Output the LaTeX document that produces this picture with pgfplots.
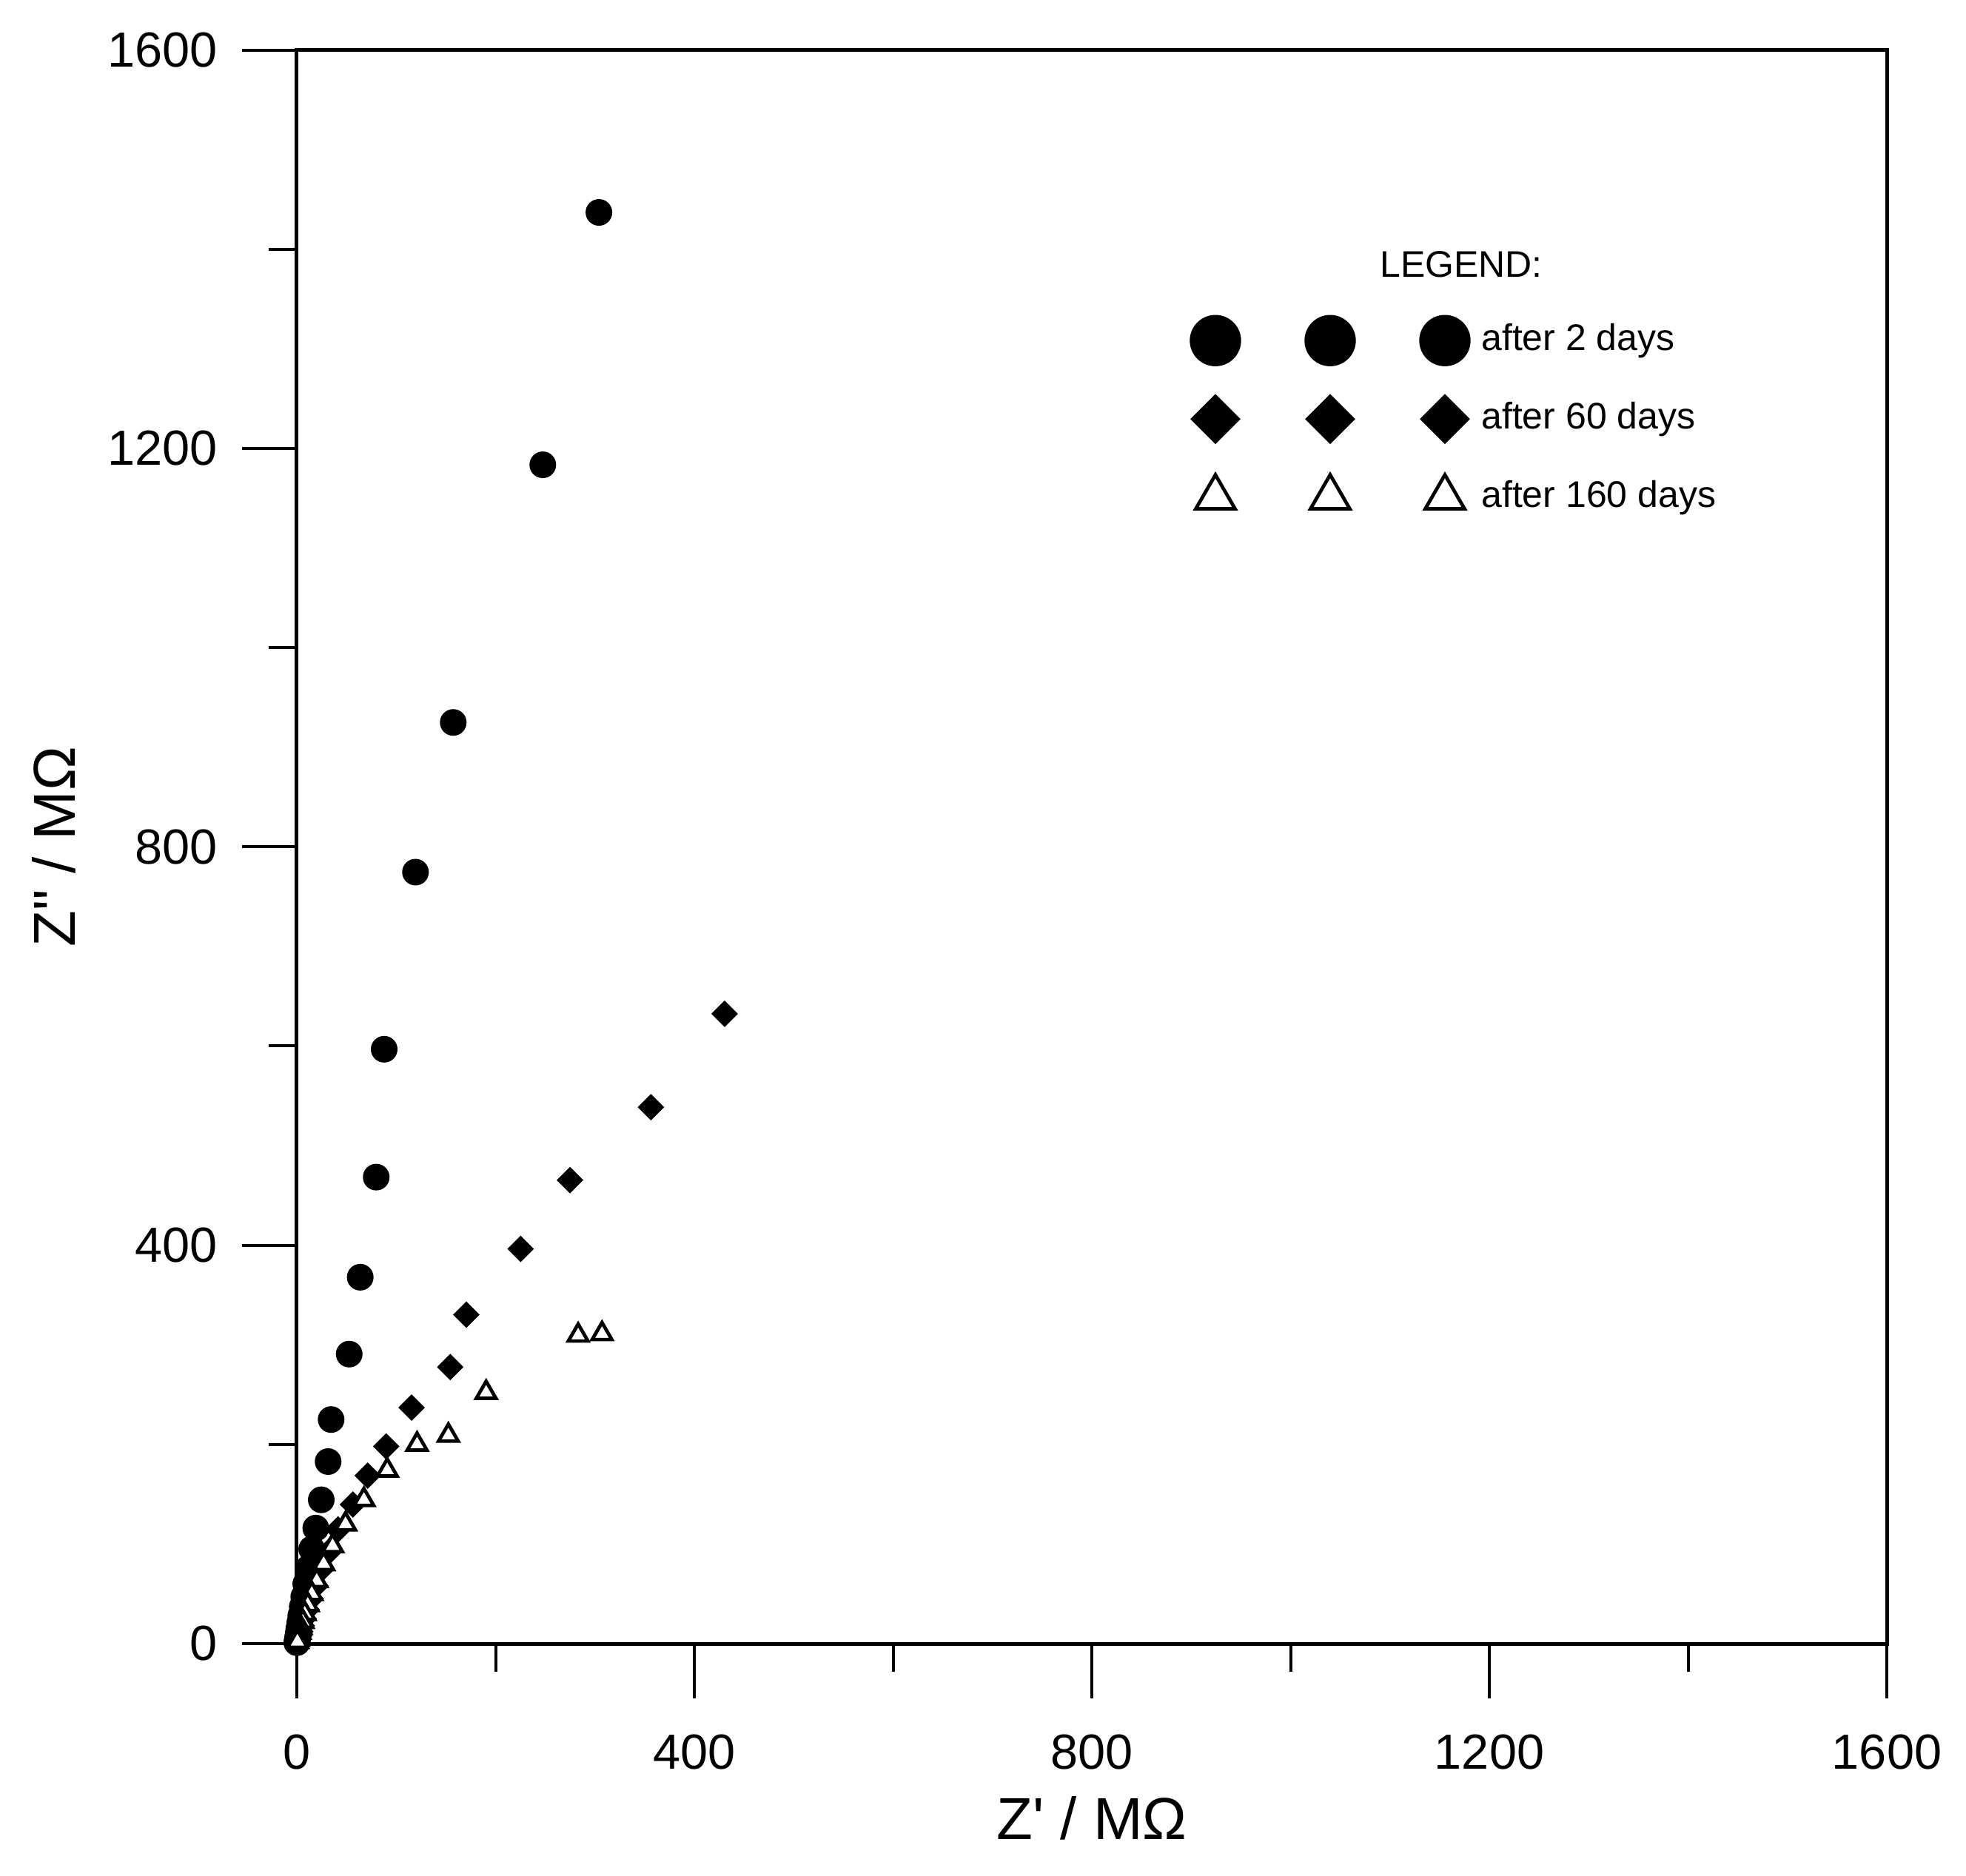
\documentclass[border=0pt]{standalone}
\usepackage{fontspec}
\setmainfont{Liberation Sans}
\newfontfamily\plainsans{Liberation Sans}
\usepackage{pgfplots}
\pgfplotsset{compat=1.18}

% 1 px of the reference = 0.15pt
\begin{document}
\begin{tikzpicture}
\begin{axis}[
    scale only axis,
    width=322.2pt, height=323pt,
    xmin=0, xmax=1600, ymin=0, ymax=1600,
    clip=false,
    xtick={0,400,...,1600}, ytick={0,400,...,1600},
    minor xtick={200,600,1000,1400}, minor ytick={200,600,1000,1400},
    xtick pos=lower, ytick pos=left,
    tick align=outside,
    major tick length=11.1pt, minor tick length=5.7pt,
    tick style={black, line width=0.6pt},
    axis line style={line width=0.75pt},
    scaled ticks=false,
    /pgf/number format/1000 sep={},
    /pgf/number format/assume math mode=true,
    ticklabel style={font=\plainsans\fontsize{10}{12}\selectfont},
    xticklabel style={yshift=-3.8pt},
    yticklabel style={xshift=-1.5pt},
    label style={font=\plainsans\fontsize{12}{14}\selectfont},
    xlabel={Z' / MΩ},
    ylabel={Z" / MΩ},
    xlabel style={at={(axis description cs:0.5,-0.1096)}, anchor=center},
    ylabel style={at={(axis description cs:-0.1527,0.5)}, anchor=center},
    legend style={at={(axis description cs:0.5616,0.8423)}, anchor=north west,
        draw=none, fill=none, inner xsep=0pt, inner ysep=0pt, outer sep=0pt,
        column sep=0pt, row sep=0pt,
        font=\plainsans\fontsize{7.5}{9}\selectfont,
        nodes={inner sep=2pt}},
    legend cell align=left,
    legend image code/.code={%
        \path[draw=none, fill=none] (-5.2pt,-7.95pt) rectangle (51.9pt,7.95pt);
        \draw[#1, only marks, every mark/.append style={scale=2}]
            plot coordinates {(0pt,0pt) (23.25pt,0pt) (46.5pt,0pt)};
    },
]
% after 2 days
\addplot[only marks, mark=*, mark size=2.5pt, black] coordinates {
    (304,1437) (247.5,1183.6) (157.4,924.9) (119.4,774.6) (87.9,596.8)
    (79.9,468.4) (63.8,367.9) (52.7,290.7) (34.5,225) (31.5,182.8)
    (24.6,144.4) (19.1,116) (15,95) (12,76) (9,60) (7,47) (5.5,37)
    (4,28) (3,21) (2,15) (1.4,10) (0.9,6.5) (0.5,4) (0.3,2) (0.1,1)
};
% after 60 days
\addplot[only marks, mark=square*, mark size=1.7pt, black,
    mark options={rotate=45}] coordinates {
    (430.5,632.4) (356.3,538.6) (274.9,465.4) (225.2,396.3) (170.6,330.3)
    (154.4,277.7) (115.5,237) (89.9,198) (71.3,168.7) (56.4,139.7)
    (41.5,114.7) (33,93) (25,75) (19,58) (14,45) (10,34) (7,25) (5,18)
    (3.5,12) (2.5,8) (1.5,5) (1,3) (0.5,1.5)
};
% after 160 days
\addplot[only marks, mark=triangle*, mark size=2.3pt, black,
    mark options={fill=white, line width=0.7pt}] coordinates {
    (307.1,311) (283.1,309.5) (190.5,252) (152.5,209) (121,200) (91,174)
    (67.5,144.4) (49,120) (36,98) (27,80) (20,63) (15,50) (11,39) (8,30)
    (6,22) (4,16) (3,11) (2,7) (1.2,4) (0.6,2)
};
\legend{after 2 days, after 60 days, after 160 days}
\node[anchor=west, inner sep=0pt, font=\plainsans\fontsize{7.5}{9}\selectfont]
    at (axis description cs:0.6806,0.8653) {LEGEND:};
\end{axis}
\pgfresetboundingbox
\path (current axis.south west) ++(-60.15pt,-46.95pt) rectangle ++(398.4pt,380.1pt);
\end{tikzpicture}
\end{document}
